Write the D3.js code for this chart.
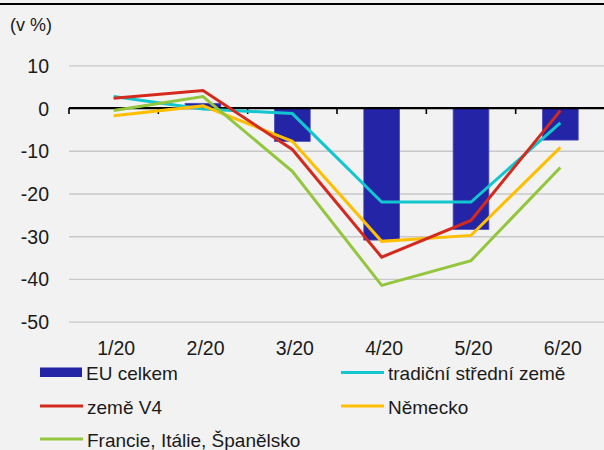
<!DOCTYPE html>
<html>
<head>
<meta charset="utf-8">
<script src="https://cdn.jsdelivr.net/npm/d3@7"></script>
<style>
  body { margin: 0; background: #f2f2f2; }
  svg { display: block; font-family: Arial, "Liberation Sans", sans-serif; }
</style>
</head>
<body>
<div id="chartContainer"></div>
<script>

var categories = ['1/20', '2/20', '3/20', '4/20', '5/20', '6/20']
var yTicks = [10, 0, -10, -20, -30, -40, -50]

// sloupce
var euCelkem = [0, 1.1, -7.8, -30.9, -28.4, -7.5]

// linie
var tradicni = [2.7, -0.2, -1.3, -22.0, -22.0, -3.5]
var zemeV4 = [2.3, 4.1, -9.7, -34.9, -26.3, -0.6]
var nemecko = [-1.8, 0.5, -7.8, -31.2, -29.8, -9.2]
var jih = [-0.6, 2.7, -14.8, -41.5, -35.7, -13.9]

var lineSeries = [
    { name: 'tradiční střední země', values: tradicni, color: '#12c6d0' },
    { name: 'Německo', values: nemecko, color: '#ffbf00' },
    { name: 'Francie, Itálie, Španělsko', values: jih, color: '#93c63c' },
    { name: 'země V4', values: zemeV4, color: '#d42a1e' }
]

var legendItems = [
    { name: 'EU celkem', type: 'bar', color: '#2424a6', col: 0, row: 0 },
    { name: 'tradiční střední země', type: 'line', color: '#12c6d0', col: 1, row: 0 },
    { name: 'země V4', type: 'line', color: '#d42a1e', col: 0, row: 1 },
    { name: 'Německo', type: 'line', color: '#ffbf00', col: 1, row: 1 },
    { name: 'Francie, Itálie, Španělsko', type: 'line', color: '#93c63c', col: 0, row: 2 }
]

var width = 604, height = 450

var svg = d3.select('#chartContainer').append('svg')
    .attr('width', width)
    .attr('height', height)

svg.append('rect')
    .attr('width', width).attr('height', height)
    .style('fill', '#f2f2f2')

// horni cara
svg.append('line')
    .attr('x1', 0).attr('x2', width)
    .attr('y1', 4).attr('y2', 4)
    .style('stroke', '#000').style('stroke-width', 2)

var xScale = d3.scaleBand()
    .domain(categories)
    .range([69, 605])
    .paddingInner(0.6)
    .paddingOuter(0.3)

var yScale = d3.scaleLinear()
    .domain([-50, 10])
    .range([321.7, 65.3])

// jednotka
svg.append('text')
    .attr('x', 10).attr('y', 31)
    .style('font-size', '18px')
    .style('fill', '#1a1a1a')
    .text('(v %)')

// osa y + mrizka
var yAxis = svg.append('g')
    .attr('class', 'yAxis')
    .attr('transform', 'translate(69,0)')
    .call(d3.axisLeft(yScale)
        .tickValues(yTicks)
        .tickSize(-(605 - 69))
        .tickPadding(20)
        .tickFormat(d3.format('d')))

yAxis.select('.domain').remove()
yAxis.selectAll('line')
    .style('stroke', function(d) { return d === 0 ? 'none' : '#c8c8c8' })
    .style('stroke-width', 1.3)
yAxis.selectAll('text')
    .style('font-size', '19.5px')
    .style('fill', '#1a1a1a')
    .attr('dy', '0.36em')
    .text(function(d) { return d < 0 ? '-' + Math.abs(d) : d })

// sloupce EU celkem
svg.append('g')
    .attr('class', 'bars')
    .selectAll('rect')
    .data(categories)
    .enter()
    .append('rect')
    .attr('x', function(d) { return xScale(d) })
    .attr('width', xScale.bandwidth())
    .attr('y', function(d, i) { return yScale(Math.max(0, euCelkem[i])) })
    .attr('height', function(d, i) { return Math.abs(yScale(euCelkem[i]) - yScale(0)) })
    .style('fill', '#2424a6')
    .style('stroke', '#4b4bbb')
    .style('stroke-width', 0.8)

// nulova osa s carkami
var step = xScale.step()
var boundaries = categories.map(function(d) { return xScale(d) - step * xScale.paddingOuter() })
boundaries.push(605)

svg.append('line')
    .attr('x1', 69).attr('x2', 605)
    .attr('y1', yScale(0)).attr('y2', yScale(0))
    .style('stroke', '#000').style('stroke-width', 2.2)

svg.append('g')
    .selectAll('line')
    .data(boundaries)
    .enter()
    .append('line')
    .attr('x1', function(d) { return d }).attr('x2', function(d) { return d })
    .attr('y1', yScale(0)).attr('y2', yScale(0) + 6)
    .style('stroke', '#000').style('stroke-width', 1.6)

// linie
var line = d3.line()
    .x(function(d, i) { return xScale(categories[i]) + xScale.bandwidth() / 2 })
    .y(function(d) { return yScale(d) })

svg.append('g')
    .attr('class', 'lines')
    .selectAll('path')
    .data(lineSeries)
    .enter()
    .append('path')
    .attr('d', function(d) { return line(d.values) })
    .style('fill', 'none')
    .style('stroke', function(d) { return d.color })
    .style('stroke-width', 3)
    .style('stroke-linejoin', 'miter')

// osa x - popisky
var xAxis = svg.append('g')
    .attr('class', 'xAxis')
    .attr('transform', 'translate(0,321.7)')
    .call(d3.axisBottom(xScale).tickSize(0).tickPadding(19.5))
xAxis.select('.domain').remove()
xAxis.selectAll('text')
    .attr('dx', 2.5)
    .style('font-size', '19.5px')
    .style('fill', '#1a1a1a')

// legenda
var colX = [40, 341]
var rowY = [372.5, 406, 439]

var legend = svg.append('g').attr('class', 'legend')
var li = legend.selectAll('g')
    .data(legendItems)
    .enter()
    .append('g')
    .attr('transform', function(d) { return 'translate(' + colX[d.col] + ',' + rowY[d.row] + ')' })

li.filter(function(d) { return d.type === 'bar' })
    .append('rect')
    .attr('x', 0).attr('y', -5)
    .attr('width', 42).attr('height', 9.5)
    .style('fill', function(d) { return d.color })

li.filter(function(d) { return d.type === 'line' })
    .append('line')
    .attr('x1', 0).attr('x2', 43)
    .attr('y1', 0).attr('y2', 0)
    .style('stroke', function(d) { return d.color })
    .style('stroke-width', 3)

li.append('text')
    .attr('x', function(d) { return d.type === 'bar' ? 46 : 47 })
    .attr('y', 7.5)
    .style('font-size', '19px')
    .style('fill', '#1a1a1a')
    .text(function(d) { return d.name })

</script>
</body>
</html>
